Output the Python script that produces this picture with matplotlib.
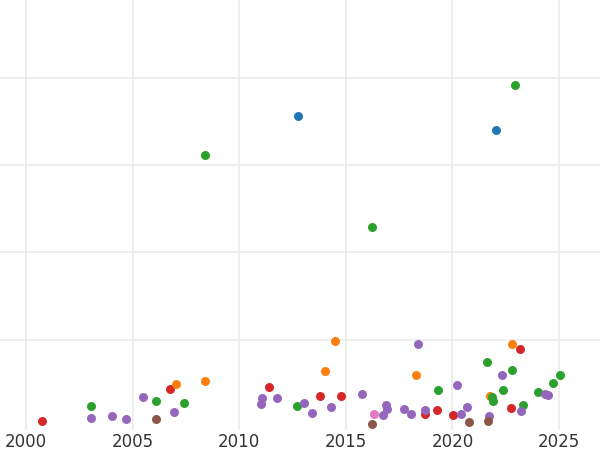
import matplotlib
matplotlib.use("Agg")
import matplotlib.pyplot as plt

red_x = [2000.75, 2006.75, 2011.4, 2013.79, 2014.77, 2018.71, 2019.28, 2020.03, 2022.75, 2023.17]
red_y = [7, 44, 46, 36, 36, 15, 20, 14, 22, 90]
orange_x = [2007.04, 2008.4, 2014.02, 2014.49, 2018.29, 2021.76, 2022.8]
orange_y = [50, 53, 65, 99, 60, 36, 95]
green_x = [2003.05, 2006.1, 2007.41, 2008.4, 2012.71, 2016.23, 2019.32, 2021.62, 2021.86, 2021.9,
           2022.37, 2022.8, 2022.94, 2023.31, 2024.01, 2024.72, 2025.05]
green_y = [25, 30, 28, 311, 25, 229, 43, 75, 35, 30, 43, 66, 391, 26, 40, 51, 60]
blue_x = [2012.76, 2022.04]
blue_y = [356, 340]
purple_x = [2003.05, 2004.03, 2004.69, 2005.49, 2006.94, 2011.02, 2011.07, 2011.77, 2013.04, 2013.41,
            2014.3, 2015.76, 2016.74, 2016.88, 2016.93, 2017.73, 2018.06, 2018.39, 2018.71, 2020.22,
            2020.4, 2020.68, 2021.72, 2022.33, 2023.22, 2024.34, 2024.48]
purple_y = [11, 13, 10, 35, 18, 27, 34, 34, 28, 17, 23, 38, 14, 26, 21, 21, 15, 95, 20, 49,
            15, 23, 13, 60, 19, 38, 37]
brown_x = [2006.1, 2016.23, 2020.78, 2021.67]
brown_y = [10, 4, 6, 7]
pink_x = [2016.32]
pink_y = [15]

fig = plt.figure(figsize=(6, 4.5), dpi=100)
ax = fig.add_axes([0, 20/450, 1, 430/450])
series = [(red_x, red_y, "#d62728"), (orange_x, orange_y, "#ff7f0e"), (green_x, green_y, "#2ca02c"),
          (blue_x, blue_y, "#1f77b4"), (purple_x, purple_y, "#9467bd"), (brown_x, brown_y, "#8c564b"),
          (pink_x, pink_y, "#e377c2")]
for xs, ys, c in series:
    ax.scatter(xs, ys, s=42, color=c, zorder=3, linewidths=0)
ax.set_xlim(1998.78, 2026.92)
ax.set_ylim(-2.9, 488.6)
ax.set_xticks([2000, 2005, 2010, 2015, 2020, 2025])
ax.set_yticks([100, 200, 300, 400])
ax.grid(True, which="major", color="#ebebeb", lw=1.2)
ax.set_axisbelow(True)
for s in ax.spines.values():
    s.set_visible(False)
ax.tick_params(axis="both", which="both", length=0)
ax.tick_params(axis="x", labelsize=12, labelcolor="#333333", pad=2)
ax.set_yticklabels([])
fig.savefig("out.png")
